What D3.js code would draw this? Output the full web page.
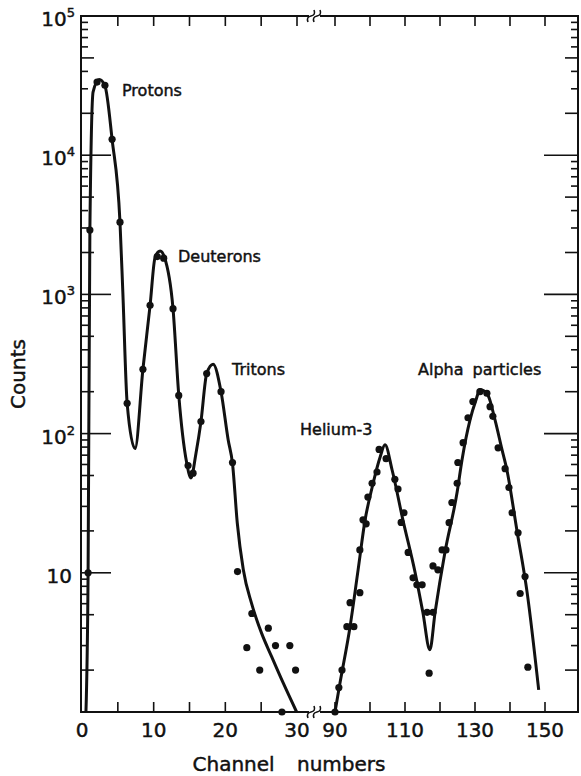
<!DOCTYPE html>
<html><head><meta charset="utf-8">
<script src="https://cdn.jsdelivr.net/npm/d3@7"></script>
<style>
body{margin:0;background:#fff}
svg{display:block}
text{font-family:"DejaVu Sans",sans-serif;fill:#111;stroke:#111;stroke-width:0.45px}
</style>
</head><body>
<svg id="c" width="581" height="776"></svg>
<script>
// ---------- data ----------
const leftChannels = [0.85, 1.1, 2.1, 3.2, 4.2, 5.3, 6.3, 8.5, 9.5, 10.5, 11.4, 12.7, 13.5, 14.8, 15.5, 16.6, 17.4, 19.4, 21.0, 21.7, 23.0, 23.7, 24.8, 26.0, 27.0, 27.9, 29.0, 29.8];
const leftCounts   = [10, 2900, 33500, 31800, 13000, 3300, 165, 290, 835, 1870, 1820, 790, 188, 59, 52, 122, 270, 200, 62, 10.2, 2.9, 5.1, 2.0, 4.0, 3.0, 1.0, 3.0, 2.0];

const rightChannels = [90.0, 91.1, 92.0, 93.4, 94.3, 95.4, 97.1, 97.1, 98.0, 98.9, 99.4, 100.6, 102.0, 102.6, 104.6, 107.1, 108.0, 108.9, 109.7, 110.9, 112.3, 113.4, 114.9, 116.3, 116.9, 118.0, 118.0, 119.4, 120.6, 121.7, 122.6, 123.4, 124.9, 125.1, 126.6, 128.0, 129.4, 131.4, 133.4, 134.3, 135.1, 136.6, 138.6, 139.7, 140.6, 142.3, 142.9, 144.3, 145.1];
const rightCounts   = [1.0, 1.5, 2.0, 4.1, 6.1, 4.1, 7.2, 14.6, 24, 22.5, 35, 44, 53, 77, 66, 47, 40, 23, 27, 14, 9.2, 8.2, 8.2, 5.2, 1.9, 5.2, 11.2, 10.5, 14.6, 14.6, 22.9, 32, 44, 62, 86, 130, 170, 200, 195, 156, 133, 79, 56, 41, 27, 19.4, 7.1, 9.4, 2.1];

const leftFitChannels = [0.55, 0.85, 1.1, 1.55, 2.4, 3.2, 4.2, 5.3, 5.7, 6.3, 7.4, 8.5, 9.5, 10.2, 10.9, 11.5, 12.7, 13.5, 14.6, 15.2, 15.9, 16.6, 17.4, 18.3, 19.4, 20.4, 21.0, 21.67, 22.51, 23.67, 25.07, 26.46, 28.09, 29.95];
const leftFitCounts   = [1, 10, 2900, 28500, 35000, 31500, 13000, 3300, 1030, 165, 78, 290, 835, 1850, 2050, 1850, 790, 190, 62, 48, 72, 122, 270, 315, 200, 90, 61, 22.7, 10.5, 6.0, 3.67, 2.5, 1.61, 1.0];

const rightFitChannels = [90.0, 91.4, 94.3, 96.6, 98.6, 100.6, 102.9, 104.3, 106.3, 109.4, 112.9, 115.1, 117.1, 118.6, 121.4, 124.9, 126.3, 128.6, 130.3, 131.4, 133.7, 135.7, 137.7, 139.1, 142.0, 144.9, 148.2];
const rightFitCounts   = [1, 1.6, 4.1, 10.5, 24, 41, 68, 83, 55, 24, 10, 5.2, 2.8, 5.2, 14, 38, 65, 126, 175, 207, 188, 126, 77, 55, 20, 7.2, 1.44];

const leftTickValues  = [5, 10, 15, 20, 25];
const leftTopTicks    = [5, 10, 15, 20, 25, 30];
const leftTickLabels  = [0, 10, 20, 30];
const rightTickValues = [90, 100, 110, 120, 130, 140, 150];
const rightTickLabels = [90, 110, 130, 150];
const yDecadeExps     = [1, 2, 3, 4, 5];
const peakNames       = ["Protons", "Deuterons", "Tritons", "Helium-3", "Alpha particles"];

// ---------- layout ----------
const svg = d3.select("#c");
const L = 81, R = 578, T = 16, B = 712;
const breakX = 314;
const xL = d3.scaleLinear().domain([0, 30]).range([82, 297]);
const xR = d3.scaleLinear().domain([90, 150]).range([335, 545]);
const y  = d3.scaleLog().domain([1, 1e5]).range([B, T]);
const ink = "#111";

// frame
const g = svg.append("g").attr("stroke", ink).attr("fill", "none").attr("stroke-width", 2);
g.append("line").attr("x1", L).attr("x2", L).attr("y1", T - 1).attr("y2", B + 1);
g.append("line").attr("x1", R).attr("x2", R).attr("y1", T - 1).attr("y2", B + 1);
[T, B].forEach(yy => {
  g.append("line").attr("x1", L - 1).attr("x2", breakX - 5).attr("y1", yy).attr("y2", yy);
  g.append("line").attr("x1", breakX + 6).attr("x2", R + 1).attr("y1", yy).attr("y2", yy);
  [-3, 3].forEach(dx => {
    const cx = breakX + dx;
    g.append("path").attr("stroke-width", 1.6)
      .attr("d", `M${cx-3},${yy+6} Q${cx-5},${yy+1} ${cx},${yy} Q${cx+5},${yy-1} ${cx+3},${yy-6}`);
  });
});

// x ticks
const tk = svg.append("g").attr("stroke", ink).attr("stroke-width", 1.6);
leftTickValues.forEach(v => tk.append("line").attr("x1", xL(v)).attr("x2", xL(v)).attr("y1", B).attr("y2", B - 10));
rightTickValues.forEach(v => tk.append("line").attr("x1", xR(v)).attr("x2", xR(v)).attr("y1", B).attr("y2", B - 10));
leftTopTicks.forEach(v => tk.append("line").attr("x1", xL(v)).attr("x2", xL(v)).attr("y1", T).attr("y2", T + 10));
rightTickValues.forEach(v => tk.append("line").attr("x1", xR(v)).attr("x2", xR(v)).attr("y1", T).attr("y2", T + 10));

// y ticks (both sides, pointing inward)
for (let e = 0; e < 5; e++) {
  for (let m = 1; m <= 9; m++) {
    const v = m * Math.pow(10, e);
    if (m === 1 && e === 0) continue;
    const len = m === 1 ? 30 : (m === 2 || m === 5 ? 13 : 7);
    tk.append("line").attr("x1", L).attr("x2", L + len).attr("y1", y(v)).attr("y2", y(v));
    tk.append("line").attr("x1", R).attr("x2", R - (m === 1 ? 34 : len)).attr("y1", y(v)).attr("y2", y(v));
  }
}
tk.append("line").attr("x1", R).attr("x2", R - 34).attr("y1", y(1e5)).attr("y2", y(1e5));

// x tick labels
const lab = svg.append("g").attr("font-size", 20).attr("text-anchor", "middle");
leftTickLabels.forEach(v => lab.append("text").attr("x", xL(v)).attr("y", 737).text(v));
rightTickLabels.forEach(v => lab.append("text").attr("x", xR(v)).attr("y", 737).text(v));

// y tick labels
const yl = svg.append("g").attr("font-size", 20).attr("text-anchor", "end");
yDecadeExps.forEach(e => {
  const t = yl.append("text").attr("x", e === 1 ? 72 : 75).attr("y", y(Math.pow(10, e)) + 10);
  t.append("tspan").text("10");
  if (e > 1) t.append("tspan").attr("font-size", 13).attr("dy", -9).text(e);
});

// axis titles
svg.append("text").attr("x", 289).attr("y", 771).attr("font-size", 20)
  .attr("text-anchor", "middle").attr("word-spacing", 16).text("Channel numbers");
svg.append("text").attr("transform", "translate(25,374) rotate(-90)").attr("font-size", 20)
  .attr("text-anchor", "middle").text("Counts");

// fitted curves
const lineL = d3.line().x(d => xL(d[0])).y(d => y(d[1])).curve(d3.curveMonotoneX);
const lineR = d3.line().x(d => xR(d[0])).y(d => y(d[1])).curve(d3.curveMonotoneX);
svg.append("path").datum(d3.zip(leftFitChannels, leftFitCounts))
  .attr("d", lineL).attr("fill", "none").attr("stroke", ink).attr("stroke-width", 3).attr("stroke-linejoin", "round");
svg.append("path").datum(d3.zip(rightFitChannels, rightFitCounts))
  .attr("d", lineR).attr("fill", "none").attr("stroke", ink).attr("stroke-width", 3).attr("stroke-linejoin", "round");

// data points
svg.append("g").selectAll("circle").data(d3.zip(leftChannels, leftCounts)).join("circle")
  .attr("cx", d => xL(d[0])).attr("cy", d => y(d[1])).attr("r", 3.6).attr("fill", ink);
svg.append("g").selectAll("circle").data(d3.zip(rightChannels, rightCounts)).join("circle")
  .attr("cx", d => xR(d[0])).attr("cy", d => y(d[1])).attr("r", 3.6).attr("fill", ink);

// peak labels
const ann = svg.append("g").attr("font-size", 16);
const annPos = [[122, 96], [178, 262], [232, 375], [300, 435], [418, 375]];
peakNames.forEach((n, i) => ann.append("text").attr("x", annPos[i][0]).attr("y", annPos[i][1])
  .attr("word-spacing", i === 4 ? 4 : 0).text(n));
</script>
</body></html>
